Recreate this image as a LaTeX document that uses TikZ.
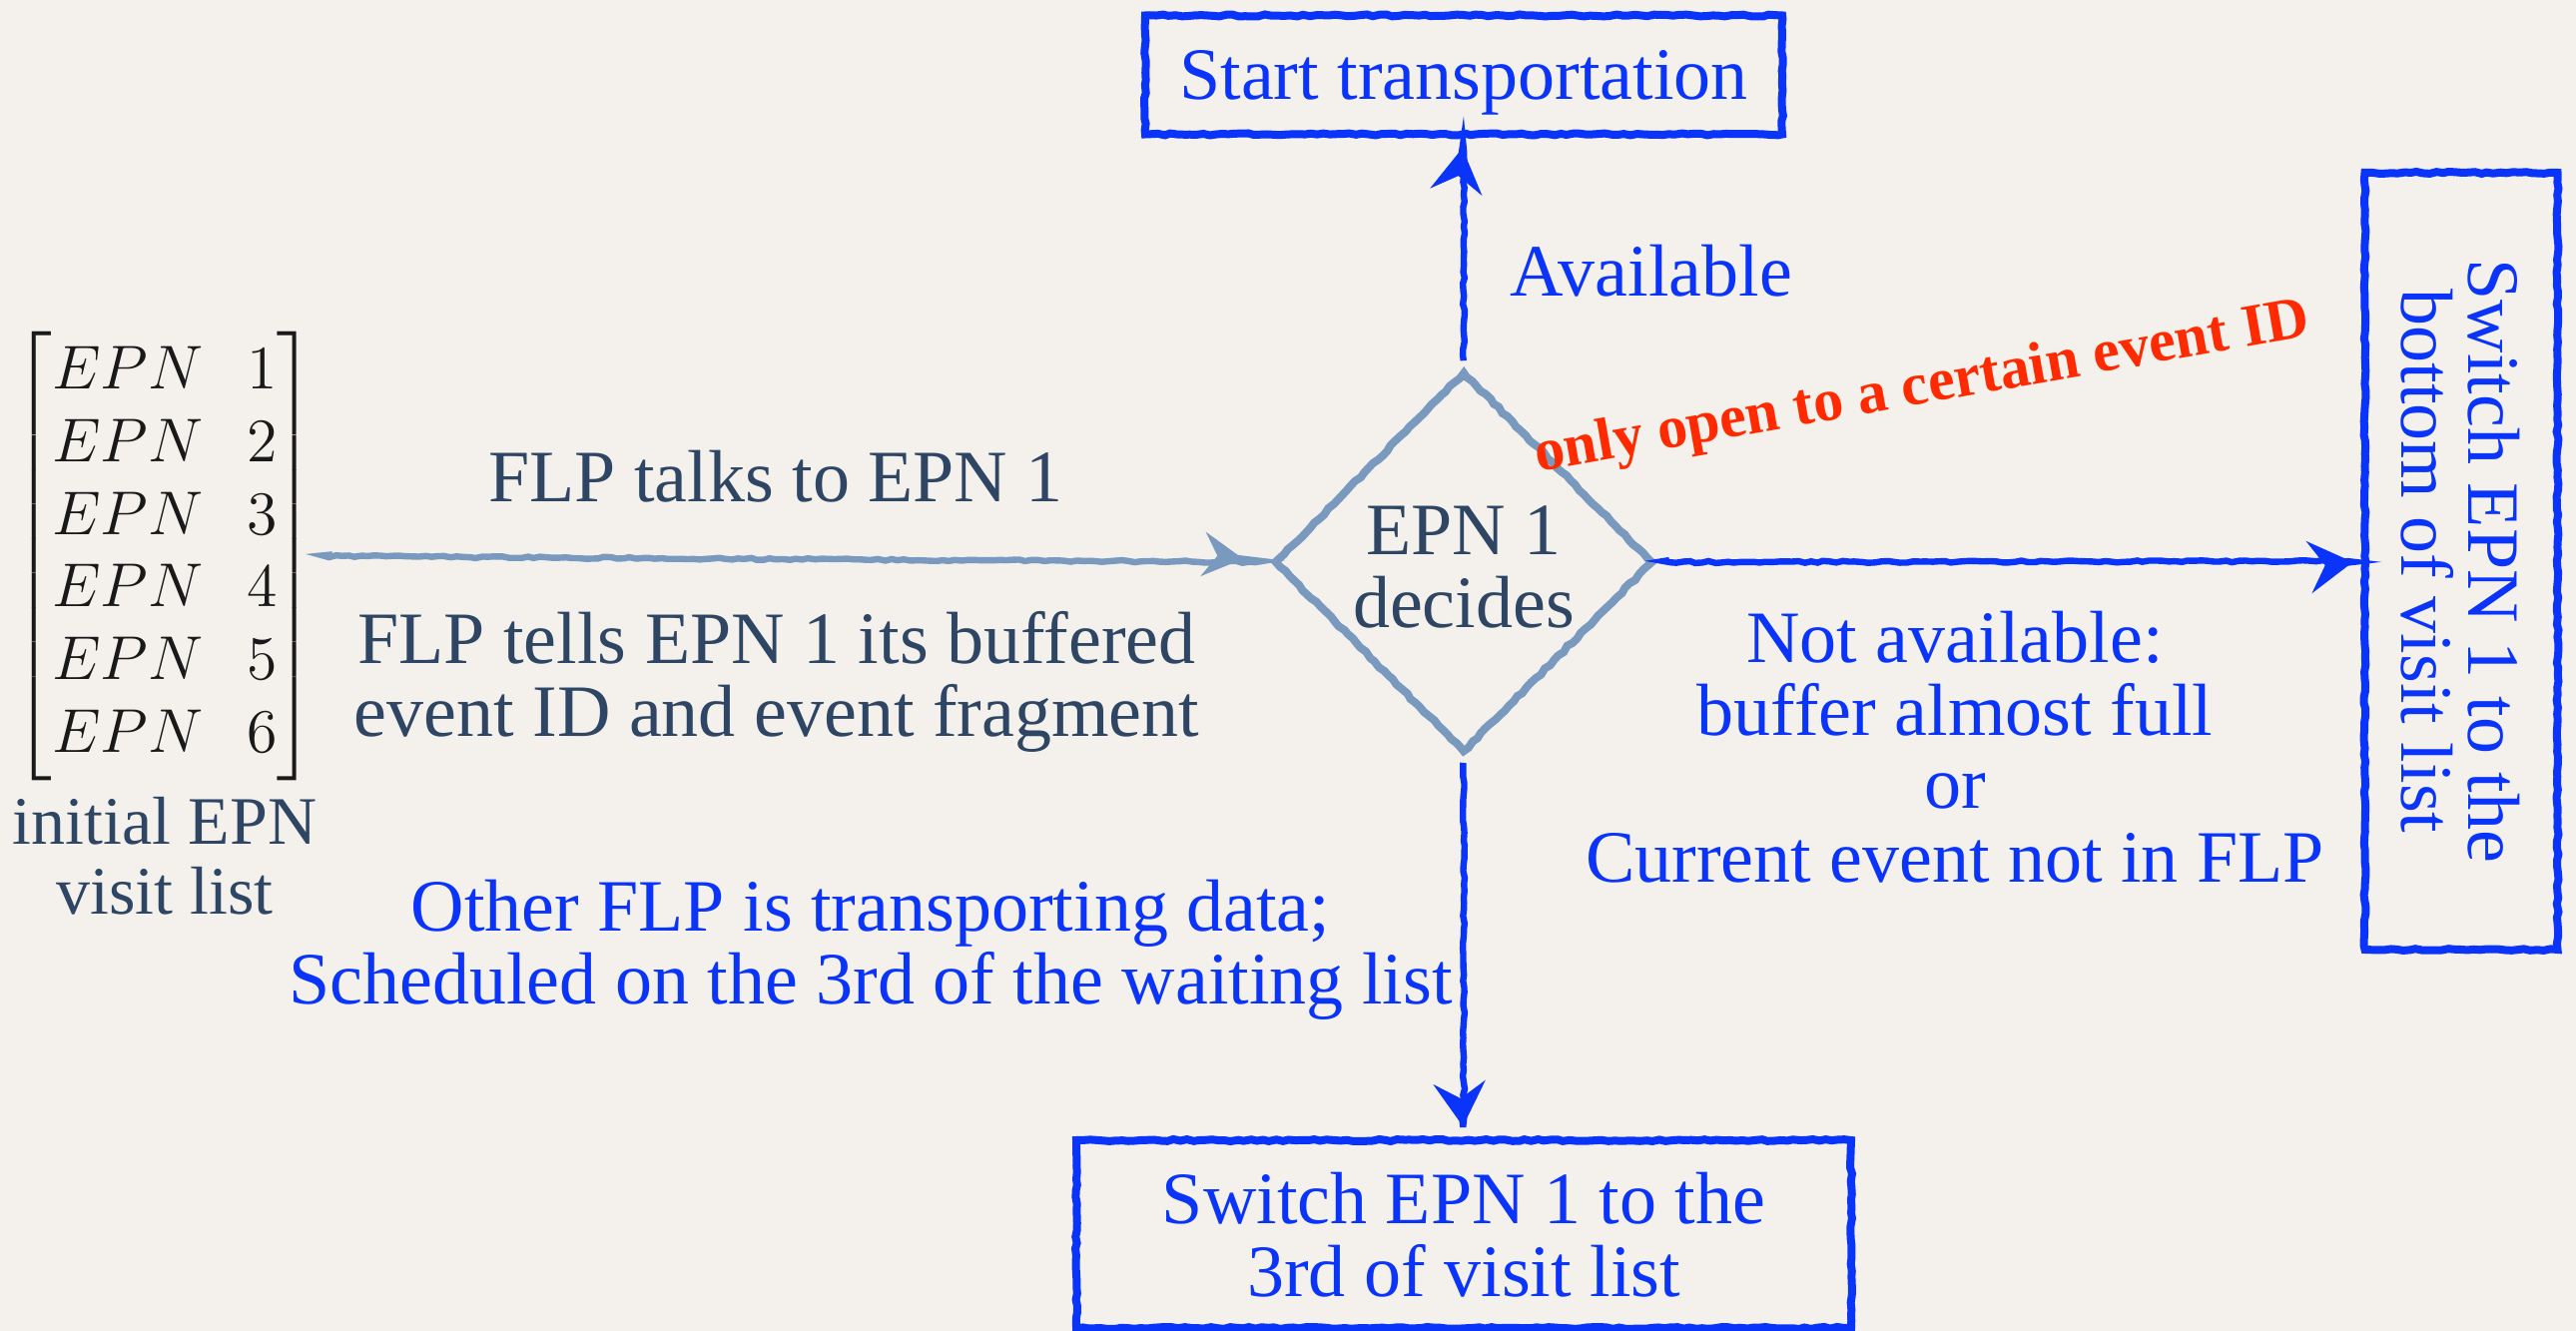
\documentclass[tikz,border=0pt]{standalone}
\usepackage{fix-cm}
\usepackage{amsmath}
\usepackage{fontspec}
\setmainfont{Liberation Serif}
\usetikzlibrary{arrows.meta,shapes.geometric,decorations.pathmorphing}

\definecolor{paper}{RGB}{244,241,236}
\definecolor{inkblue}{RGB}{10,52,250}
\definecolor{steel}{RGB}{122,153,190}
\definecolor{slate}{RGB}{46,70,100}
\definecolor{alert}{RGB}{255,42,0}

\newcommand\txtsize{\fontsize{18.5}{18.3}\selectfont}

\tikzset{
  rough/.style={decorate,decoration={random steps,segment length=1.6pt,amplitude=0.25pt}},
  bluebox/.style={draw=inkblue,line width=2pt,rough,text=inkblue,align=center,
                  inner sep=0pt,text depth=0pt,font=\txtsize},
  bluelabel/.style={text=inkblue,align=center,inner sep=0pt,font=\txtsize},
  slatelabel/.style={text=slate,align=center,inner sep=0pt,font=\txtsize},
  decision/.style={diamond,draw=steel,line width=2pt,rough,inner sep=0pt,
                   minimum width=95pt,minimum height=95.5pt},
  bluearrow/.style={draw=inkblue,line width=1.6pt,rough,
                    -{Stealth[length=11pt,width=13pt,inset=4pt]}},
  steelarrow/.style={draw=steel,line width=1.6pt,rough,
                     -{Stealth[length=10pt,width=11pt,inset=3.5pt]}},
}

\begin{document}
\begin{tikzpicture}[x=0.25pt,y=-0.25pt]
\pgfmathsetseed{7}
\fill[paper] (0,0) rectangle (2580,1333);
\useasboundingbox (0,0) rectangle (2580,1333);

% visit list
\node[inner sep=0pt,text=black!90] (mat) at (165,557)
  {\fontsize{15.5}{18.2}\selectfont\arraycolsep=5.5pt
   $\begin{bmatrix} EPN & 1\\ EPN & 2\\ EPN & 3\\ EPN & 4\\ EPN & 5\\ EPN & 6\end{bmatrix}$};
\node[slatelabel,font=\fontsize{17}{17.5}\selectfont] (matcap) at (165,857)
  {initial EPN\\visit list};

% decision
\node[decision] (dec) at (1466,563) {};
\node[slatelabel] (dectxt) at (1466,568) {EPN 1\\decides};

% outcome boxes
\node[bluebox,minimum width=159.5pt,minimum height=29.75pt] (start) at (1466,75)
  {Start transportation};
\node[bluebox,rotate=-90,minimum width=194.5pt,minimum height=48.25pt,
      font=\fontsize{18.5}{16.8}\selectfont] (bottom) at (2465,562)
  {Switch EPN 1 to the\\bottom of visit list};
\node[bluebox,minimum width=194pt,minimum height=47pt] (third) at (1466,1236)
  {Switch EPN 1 to the\\3rd of visit list};

% connectors
\draw[steelarrow,shorten <=4pt,shorten >=6.75pt] (mat.east) -- (dec.west);
\draw[bluearrow,shorten <=2pt,shorten >=2.5pt] (dec.north) -- (start.south);
\draw[bluearrow,shorten <=3pt,shorten >=2pt] (dec.east) -- (bottom.south);
\draw[bluearrow,shorten <=1.5pt,shorten >=2.5pt] (dec.south) -- (third.north);

% labels
\node[slatelabel] (talk) at (777,477) {FLP talks to EPN 1};
\node[slatelabel] (tell) at (778,683) {FLP tells EPN 1 its buffered\\event ID and event fragment};
\node[bluelabel] (avail) at (1654,271) {Available};
\node[bluelabel] (notavail) at (1958,748)
  {Not available:\\buffer almost full\\or\\Current event not in FLP};
\node[bluelabel] (busy) at (872,951)
  {Other FLP is transporting data;\\Scheduled on the 3rd of the waiting list};
\node[text=alert,inner sep=0pt,rotate=10,font=\bfseries\fontsize{15}{16}\selectfont]
  (note) at (1925,390) {only open to a certain event ID};
\end{tikzpicture}
\end{document}
